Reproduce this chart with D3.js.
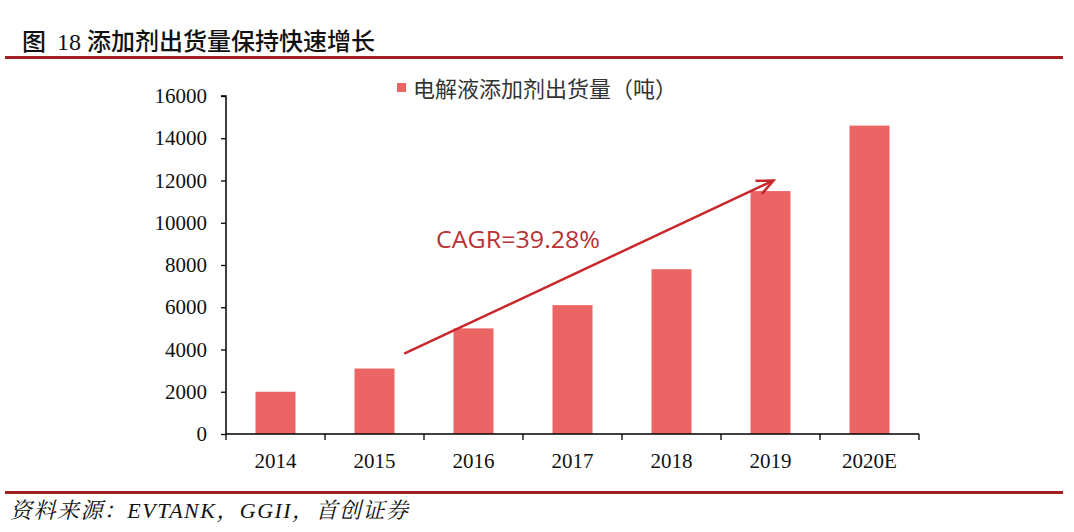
<!DOCTYPE html>
<html><head><meta charset="utf-8">
<script src="https://cdn.jsdelivr.net/npm/d3@7"></script>
<style>body{margin:0;background:#fff}</style>
</head><body>
<svg id="c" width="1074" height="532"></svg>
<script>
const categories = ["2014","2015","2016","2017","2018","2019","2020E"];
const values = [2000, 3100, 5000, 6100, 7800, 11500, 14600];
const yTicks = [0,2000,4000,6000,8000,10000,12000,14000,16000];
const seriesName = "电解液添加剂出货量（吨）";
const sourceText = "资料来源：EVTANK，GGII，首创证券";
const cagrText = "CAGR=39.28%";
const arrowFrom = {cat:"2015", frac:0.8, value:3800};
const arrowTo = {cat:"2019", frac:0.53, value:12000};

(function(){
const svg = d3.select("#c");
const serif = "'Liberation Serif','Times New Roman','Noto Serif CJK SC','Noto Sans CJK SC',serif";
const cjk = "'Noto Sans CJK SC','Noto Sans',sans-serif";

// title
const tt = svg.append("g").attr("fill","#111").attr("font-size",24);
tt.append("text").attr("x",22).attr("y",50).attr("font-family",cjk).attr("font-weight",500).text("图");
tt.append("text").attr("x",57).attr("y",50).attr("font-family",serif).text("18");
tt.append("text").attr("x",87).attr("y",50).attr("font-family",cjk).attr("font-weight",500).text("添加剂出货量保持快速增长");
svg.append("rect").attr("x",5).attr("y",56).attr("width",1058).attr("height",3).attr("fill","#a31f24");
svg.append("rect").attr("x",5).attr("y",491).attr("width",1058).attr("height",3).attr("fill","#a31f24");
svg.append("text").attr("x",10).attr("y",518).attr("font-family",serif)
  .attr("font-size",22).attr("font-style","italic").attr("fill","#111")
  .attr("textLength",398).attr("lengthAdjust","spacing").text(sourceText);

const L=226, R=919, T=96, B=434;
const xb = d3.scaleBand().domain(categories).range([L,R]);
const y = d3.scaleLinear().domain([0,16000]).range([B,T]);
const barW = 40;

svg.append("g").selectAll("rect").data(values).join("rect")
  .attr("x",(d,i)=>xb(categories[i]) + (xb.bandwidth()-barW)/2)
  .attr("width",barW)
  .attr("y",d=>y(d)).attr("height",d=>B-y(d)).attr("fill","#ec6565");

// y axis
const ya = svg.append("g").attr("transform",`translate(${L},0)`)
  .call(d3.axisLeft(y).tickValues(yTicks).tickSize(5).tickPadding(14).tickFormat(d3.format("d")));
ya.select(".domain").attr("stroke","#000").attr("stroke-width",1.5).attr("d",`M-5,${T}H0V${B}`);
ya.selectAll(".tick line").attr("stroke","#000").attr("stroke-width",1.3);
ya.selectAll("text").attr("font-family",serif).attr("font-size",21).attr("fill","#111");

// x axis with ticks at band boundaries
const xa = svg.append("g").attr("transform",`translate(0,${B})`);
xa.append("line").attr("x1",L).attr("x2",R).attr("stroke","#000").attr("stroke-width",1.5);
const bounds = categories.map(c=>xb(c)).concat([R]);
xa.selectAll("line.t").data(bounds).join("line").attr("class","t")
  .attr("x1",d=>d).attr("x2",d=>d).attr("y1",0).attr("y2",6).attr("stroke","#000").attr("stroke-width",1.3);
xa.selectAll("text").data(categories).join("text")
  .attr("x",d=>xb(d)+xb.bandwidth()/2).attr("y",34).attr("text-anchor","middle")
  .attr("font-family",serif).attr("font-size",21).attr("fill","#111").text(d=>d);

// legend
svg.append("rect").attr("x",397).attr("y",83).attr("width",9).attr("height",9).attr("fill","#ec6565");
svg.append("text").attr("x",413).attr("y",97).attr("font-family",cjk).attr("font-size",22)
  .attr("fill","#333").text(seriesName);

// arrow
const ax1 = xb(arrowFrom.cat)+xb.bandwidth()*arrowFrom.frac, ay1 = y(arrowFrom.value);
const ax2 = xb(arrowTo.cat)+xb.bandwidth()*arrowTo.frac, ay2 = y(arrowTo.value);
const arrowColor = "#c8282b";
svg.append("line").attr("x1",ax1).attr("y1",ay1).attr("x2",ax2).attr("y2",ay2)
  .attr("stroke",arrowColor).attr("stroke-width",2.5);
const ang = Math.atan2(ay2-ay1, ax2-ax1), hl=18, ha=0.42;
const p1=[ax2-hl*Math.cos(ang-ha), ay2-hl*Math.sin(ang-ha)];
const p2=[ax2-hl*Math.cos(ang+ha), ay2-hl*Math.sin(ang+ha)];
svg.append("path").attr("d",`M${p1}L${ax2},${ay2}L${p2}`).attr("fill","none")
  .attr("stroke",arrowColor).attr("stroke-width",2.5).attr("stroke-linejoin","miter");
svg.append("text").attr("x",436).attr("y",248).attr("font-family","'Open Sans','Noto Sans',sans-serif")
  .attr("font-size",23).attr("fill","#b83234")
  .attr("textLength",164).attr("lengthAdjust","spacingAndGlyphs").text(cagrText);
})();
</script>
</body></html>
